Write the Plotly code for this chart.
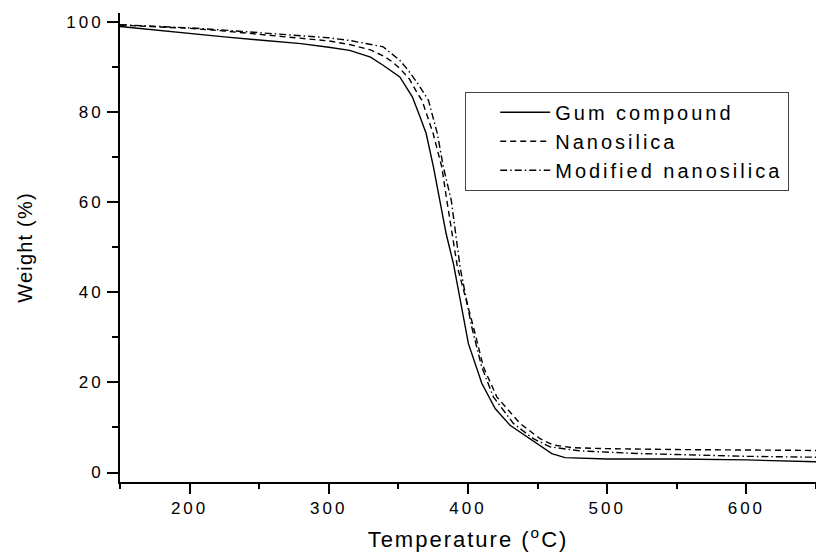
import plotly.graph_objects as go

# TGA curves: weight retained (%) versus temperature (°C)
gum_temp = [150, 175, 200, 225, 250, 280, 300, 315, 330, 339, 351, 360, 365.6, 370, 375.2,
            379.5, 384.3, 389.5, 394.3, 400.3, 409.9, 419.5, 430.2, 449.4, 460.2, 469.7,
            500, 550, 600, 650]
gum_weight = [99.0, 98.2, 97.4, 96.7, 96.0, 95.2, 94.4, 93.7, 92.2, 90.4, 87.8, 83.4, 78.9, 75.2, 67.8,
              61.2, 53.0, 46.4, 38.2, 28.6, 19.8, 14.2, 10.5, 6.4, 4.2, 3.3,
              3.0, 3.0, 2.8, 2.4]

nano_temp = [150, 175, 200, 225, 250, 280, 300, 315, 330, 339, 345, 351, 358, 364, 367,
             375, 381.2, 384.8, 392.4, 403.9, 411.1, 420.7, 437.4, 451.8, 461.3, 475.7,
             500, 550, 600, 650]
nano_weight = [99.3, 99.0, 98.6, 98.0, 97.3, 96.3, 95.8, 95.0, 93.8, 92.5, 91.3, 89.7, 87.3, 84.0, 82.6,
               75.2, 67.8, 60.4, 45.6, 32.3, 23.4, 16.8, 10.9, 7.5, 6.1, 5.5,
               5.3, 5.1, 5.0, 4.9]

mod_temp = [150, 175, 200, 225, 250, 280, 300, 315, 330, 339, 351, 357, 364, 368.6, 371.6,
            378, 382.3, 388, 394.3, 402.7, 409.9, 418.2, 432.6, 447, 459, 480.5,
            523.5, 550, 600, 650]
mod_weight = [99.4, 99.1, 98.7, 98.2, 97.6, 96.9, 96.5, 95.9, 95.0, 94.5, 91.5, 89.3, 86.3, 84.0, 82.6,
              75.2, 67.8, 60.4, 45.6, 32.3, 23.4, 16.8, 10.9, 7.5, 5.7, 4.8,
              4.2, 4.0, 3.6, 3.4]

series_names = ["Gum compound", "Nanosilica", "Modified nanosilica"]

x_ticks = [200, 300, 400, 500, 600]
x_minor = [150, 250, 350, 450, 550, 650]
y_ticks = [0, 20, 40, 60, 80, 100]
y_minor = [10, 30, 50, 70, 90]

FONT = "Arial, Liberation Sans, Helvetica, sans-serif"


def spaced(text, px):
    return f'<span style="letter-spacing:{px}px">{text}</span>'


fig = go.Figure()
fig.add_trace(go.Scatter(x=gum_temp, y=gum_weight, mode="lines", name=spaced(series_names[0], 3),
                         line=dict(color="black", width=1.4)))
fig.add_trace(go.Scatter(x=nano_temp, y=nano_weight, mode="lines", name=spaced(series_names[1], 3),
                         line=dict(color="black", width=1.4, dash="6px,4px")))
fig.add_trace(go.Scatter(x=mod_temp, y=mod_weight, mode="lines", name=spaced(series_names[2], 3),
                         line=dict(color="black", width=1.4, dash="7px,3px,1.5px,3px")))

fig.update_layout(
    width=816, height=558,
    margin=dict(l=120, r=0, t=13, b=76),
    paper_bgcolor="white", plot_bgcolor="white",
    font=dict(family=FONT, color="black", size=17),
    showlegend=True,
    legend=dict(
        x=0.496, y=0.832, xanchor="left", yanchor="top",
        bgcolor="white", bordercolor="#444", borderwidth=1,
        font=dict(family=FONT, size=20, color="black"),
        itemwidth=50, indentation=29, tracegroupgap=0,
    ),
    xaxis=dict(
        range=[150, 650], showgrid=False, zeroline=False,
        showline=True, linecolor="black", linewidth=2,
        ticks="outside", ticklen=10, tickwidth=2, tickcolor="black",
        tickvals=x_ticks, ticktext=[spaced(str(v), 3) for v in x_ticks],
        tickfont=dict(family=FONT, size=17),
        minor=dict(tickvals=x_minor, ticks="outside", ticklen=5, tickwidth=2, tickcolor="black"),
        title=dict(text=spaced("Temperature (<sup>o</sup>C)", 2), standoff=14,
                   font=dict(family=FONT, size=22)),
    ),
    yaxis=dict(
        range=[-2.1, 102], showgrid=False, zeroline=False,
        showline=True, linecolor="black", linewidth=2,
        ticks="outside", ticklen=11, tickwidth=2, tickcolor="black",
        tickvals=y_ticks, ticktext=[spaced(str(v), 3) for v in y_ticks],
        tickfont=dict(family=FONT, size=17),
        minor=dict(tickvals=y_minor, ticks="outside", ticklen=6, tickwidth=2, tickcolor="black"),
        title=dict(text=spaced("Weight (%)", 1.2), standoff=28,
                   font=dict(family=FONT, size=20)),
    ),
)

fig.write_html("out.html")
